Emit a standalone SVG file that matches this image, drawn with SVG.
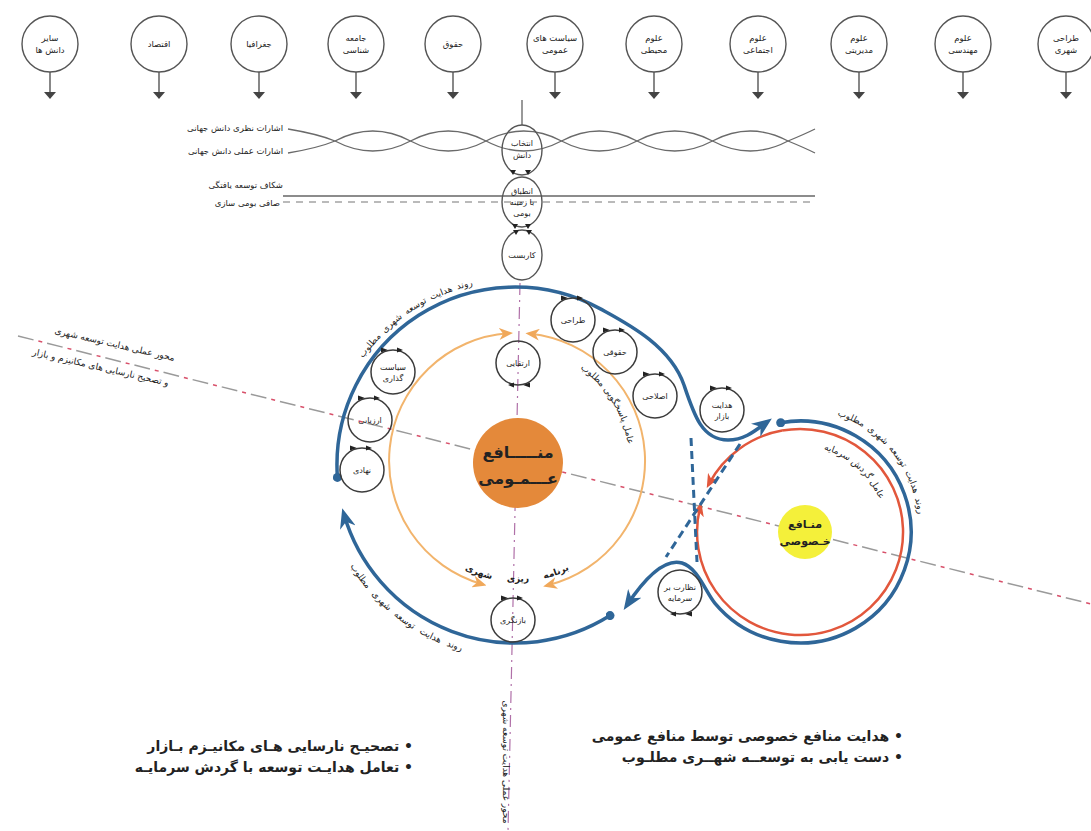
<svg xmlns="http://www.w3.org/2000/svg" width="1091" height="831" viewBox="0 0 1091 831">
<defs>
<style>
text{font-family:"DejaVu Sans","Noto Sans",sans-serif;fill:#222}
.tc{fill:#fff;stroke:#555;stroke-width:1.4}
.tt{font-size:8.5px;text-anchor:middle}
.stem{stroke:#555;stroke-width:1.4}
.tri{fill:#444}
.sc{fill:none;stroke:#3c3c3c;stroke-width:1.5}
.st{font-size:8px;text-anchor:middle}
.mk{fill:#222}
.blue{fill:none;stroke:#2f6698;stroke-width:3.5}
.bdash{fill:none;stroke:#2f6698;stroke-width:3;stroke-dasharray:8 5}
.red{fill:none;stroke:#e2573c;stroke-width:2.5}
.ring{fill:none;stroke:#f2b46c;stroke-width:2}
.wave{fill:none;stroke:#6a6a6a;stroke-width:1.3}
.lab{font-size:8.5px;text-anchor:end}
.arc{font-size:9px;text-anchor:middle}
.bt{font-size:14px;font-weight:bold;direction:rtl;text-anchor:start}
.el{fill:none;stroke:#555;stroke-width:1.4}
</style>
<marker id="aBlue" viewBox="0 0 20 16" refX="14" refY="8" markerWidth="20" markerHeight="16" markerUnits="userSpaceOnUse" orient="auto"><path d="M0,0 L20,8 L0,16 L6,8 z" fill="#2f6698"/></marker>
<marker id="dBlue" viewBox="0 0 10 10" refX="5" refY="5" markerWidth="9" markerHeight="9" markerUnits="userSpaceOnUse"><circle cx="5" cy="5" r="5" fill="#2f6698"/></marker>
<marker id="aOr" viewBox="0 0 14 12" refX="9" refY="6" markerWidth="14" markerHeight="12" markerUnits="userSpaceOnUse" orient="auto-start-reverse"><path d="M0,0 L14,6 L0,12 L4,6 z" fill="#f0a85a"/></marker>
<marker id="aRed" viewBox="0 0 14 12" refX="9" refY="6" markerWidth="14" markerHeight="12" markerUnits="userSpaceOnUse" orient="auto"><path d="M0,0 L14,6 L0,12 L4,6 z" fill="#e2573c"/></marker>
<g id="cyc"><circle r="22" class="sc"/><path class="mk" d="M-12,-24.5 L-5,-22 L-12,-19.5 z M4,-24.5 L10,-22 L4,-19.5 z"/></g>
<path id="pTop" d="M336,415 A184,184 0 0 1 512,281"/>
<path id="pBot" d="M337,540 A194,194 0 0 0 490,657"/>
<path id="pRing" d="M569.5,362.1 A112,112 0 0 1 628.9,457.1"/>
<path id="pRingB" d="M458,566 A118,118 0 0 0 576,566"/>
<path id="pROut" d="M812,410 A118,118 0 0 1 918,540"/>
<path id="pRIn" d="M822,449 A86,86 0 0 1 880,501"/>
</defs>
<rect width="1091" height="831" fill="#fff"/>

<!-- top discipline nodes -->
<g id="t1"><circle class="tc" cx="50" cy="44" r="28"/><text class="tt" x="50" y="41">سایر</text><text class="tt" x="50" y="53">دانش ها</text><line class="stem" x1="50" y1="72" x2="50" y2="93"/><path class="tri" d="M44,92 H56 L50,99 z"/></g>
<g id="t2"><circle class="tc" cx="159" cy="44" r="28"/><text class="tt" x="159" y="47">اقتصاد</text><line class="stem" x1="159" y1="72" x2="159" y2="93"/><path class="tri" d="M153,92 H165 L159,99 z"/></g>
<g id="t3"><circle class="tc" cx="259" cy="44" r="28"/><text class="tt" x="259" y="47">جغرافیا</text><line class="stem" x1="259" y1="72" x2="259" y2="93"/><path class="tri" d="M253,92 H265 L259,99 z"/></g>
<g id="t4"><circle class="tc" cx="356" cy="44" r="28"/><text class="tt" x="356" y="41">جامعه</text><text class="tt" x="356" y="53">شناسی</text><line class="stem" x1="356" y1="72" x2="356" y2="93"/><path class="tri" d="M350,92 H362 L356,99 z"/></g>
<g id="t5"><circle class="tc" cx="453" cy="44" r="28"/><text class="tt" x="453" y="47">حقوق</text><line class="stem" x1="453" y1="72" x2="453" y2="93"/><path class="tri" d="M447,92 H459 L453,99 z"/></g>
<g id="t6"><circle class="tc" cx="555" cy="44" r="28"/><text class="tt" x="555" y="41">سیاست های</text><text class="tt" x="555" y="53">عمومی</text><line class="stem" x1="555" y1="72" x2="555" y2="93"/><path class="tri" d="M549,92 H561 L555,99 z"/></g>
<g id="t7"><circle class="tc" cx="654" cy="44" r="28"/><text class="tt" x="654" y="41">علوم</text><text class="tt" x="654" y="53">محیطی</text><line class="stem" x1="654" y1="72" x2="654" y2="93"/><path class="tri" d="M648,92 H660 L654,99 z"/></g>
<g id="t8"><circle class="tc" cx="758" cy="44" r="28"/><text class="tt" x="758" y="41">علوم</text><text class="tt" x="758" y="53">اجتماعی</text><line class="stem" x1="758" y1="72" x2="758" y2="93"/><path class="tri" d="M752,92 H764 L758,99 z"/></g>
<g id="t9"><circle class="tc" cx="859" cy="44" r="28"/><text class="tt" x="859" y="41">علوم</text><text class="tt" x="859" y="53">مدیریتی</text><line class="stem" x1="859" y1="72" x2="859" y2="93"/><path class="tri" d="M853,92 H865 L859,99 z"/></g>
<g id="t10"><circle class="tc" cx="963" cy="44" r="28"/><text class="tt" x="963" y="41">علوم</text><text class="tt" x="963" y="53">مهندسی</text><line class="stem" x1="963" y1="72" x2="963" y2="93"/><path class="tri" d="M957,92 H969 L963,99 z"/></g>
<g id="t11"><circle class="tc" cx="1066" cy="44" r="28"/><text class="tt" x="1066" y="41">طراحی</text><text class="tt" x="1066" y="53">شهری</text><line class="stem" x1="1066" y1="72" x2="1066" y2="93"/><path class="tri" d="M1060,92 H1072 L1066,99 z"/></g>

<!-- knowledge bands -->
<g id="bands">
<path class="wave" d="M288,129 Q318,134 335,141 Q372.75,161 410.5,141 Q448.25,121 486,141 Q523.75,161 561.5,141 Q599.25,121 637,141 Q674.75,161 712.5,141 Q750.25,121 788,141 Q805,148 815,153"/>
<path class="wave" d="M288,153 Q318,148 335,141 Q372.75,121 410.5,141 Q448.25,161 486,141 Q523.75,121 561.5,141 Q599.25,161 637,141 Q674.75,121 712.5,141 Q750.25,161 788,141 Q805,134 815,129"/>
<text class="lab" x="283" y="131">اشارات نظری دانش جهانی</text>
<text class="lab" x="283" y="154">اشارات عملی دانش جهانی</text>
<line x1="283" y1="196" x2="815" y2="196" stroke="#666" stroke-width="1.4"/>
<line x1="283" y1="202" x2="815" y2="202" stroke="#777" stroke-width="1.2" stroke-dasharray="7 6"/>
<text class="lab" x="283" y="188">شکاف توسعه یافتگی</text>
<text class="lab" x="280" y="206">صافی بومی سازی</text>
</g>

<!-- axes -->
<g id="axes">
<line x1="520" y1="283" x2="508" y2="831" stroke="#b070a8" stroke-width="1.2" stroke-dasharray="12 5 2 5"/>
<line x1="18" y1="336" x2="1091" y2="604" stroke="#9a9a9a" stroke-width="1.5" stroke-dasharray="16 14"/>
<line x1="18" y1="336" x2="1091" y2="604" stroke="#d8506a" stroke-width="1.5" stroke-dasharray="4 26" stroke-dashoffset="-21"/>
<text font-size="9" text-anchor="end" transform="translate(174,361) rotate(13)">محور عملی هدایت توسعه شهری</text>
<text font-size="9" text-anchor="end" transform="translate(168,386) rotate(13)">و تصحیح نارسایی های مکانیزم و بازار</text>
<text font-size="9" text-anchor="middle" transform="translate(503,762) rotate(90)">محور عملی هدایت توسعه شهری</text>
</g>

<!-- chain ellipses -->
<g id="e1"><ellipse class="el" cx="522" cy="150" rx="20" ry="25"/><text class="st" font-size="7.5" x="522" y="146">انتخاب</text><text class="st" font-size="7.5" x="522" y="158">دانش</text></g>
<g id="e2"><ellipse class="el" cx="522" cy="202" rx="20" ry="25"/><text class="st" font-size="7" x="522" y="194">انطباق</text><text class="st" font-size="7" x="522" y="205">با زمینه</text><text class="st" font-size="7" x="522" y="216">بومی</text></g>
<g id="e3"><ellipse class="el" cx="522" cy="255" rx="20" ry="25"/><text class="st" font-size="7.5" x="522" y="258">کاربست</text></g>

<!-- central elements -->
<g id="public"><circle cx="518" cy="463" r="45" fill="#e4893a"/><text x="518" y="458" font-size="16" font-weight="bold" text-anchor="middle">منـــــافع</text><text x="518" y="484" font-size="16" font-weight="bold" text-anchor="middle">عـــمـومی</text></g>
<g id="private"><circle cx="805" cy="532" r="27" fill="#f4f03a"/><text x="805" y="528" font-size="11" font-weight="bold" text-anchor="middle">منـافع</text><text x="805" y="545" font-size="11" font-weight="bold" text-anchor="middle">خـصوصی</text></g>

<g id="connectors">
<line x1="522" y1="100" x2="522" y2="125" stroke="#555" stroke-width="1.2"/>
<path class="mk" d="M510,170 L516,170 L513,175 z M525,170 L531,170 L528,175 z M512,224 L518,224 L515,229 z M525,224 L531,224 L528,229 z M513,230 L519,230 L516,235 z M526,230 L532,230 L529,235 z"/>
<path class="ring" marker-start="url(#aOr)" marker-end="url(#aOr)" d="M508.1,333.3 A128,128 0 0 0 481.7,584"/>
<path class="ring" marker-start="url(#aOr)" marker-end="url(#aOr)" d="M530.4,333.7 A128,128 0 0 1 548,585.2"/>
<path class="red" marker-end="url(#aRed)" d="M782.1,430.6 A103,103 0 1 1 700.1,507.1"/>
<path class="red" marker-end="url(#aRed)" d="M782.1,430.6 A103,103 0 0 0 709.1,483.6"/>
<path class="blue" marker-start="url(#dBlue)" marker-end="url(#aBlue)" d="M337.4,477.4 A178,178 0 0 1 599.9,308.6 C626,323 670,345 684,385 C694,415 702,440 728,440 C745,440 756,430 767,422"/>
<path class="blue" marker-start="url(#dBlue)" marker-end="url(#aBlue)" d="M610,615.6 A178,178 0 0 1 343.9,514.1"/>
<path class="blue" marker-start="url(#dBlue)" marker-end="url(#aBlue)" d="M780.7,422.7 A111,111 0 1 1 715,603.3 C705.4,591.8 698,568 682,563 C665,558 645,578 627,605"/>
<path class="bdash" d="M691,438 L697,562"/>
<path class="bdash" d="M740,444 L666,557"/>
<text class="arc" font-size="10" word-spacing="2"><textPath href="#pTop" startOffset="55%">روند هدایت توسعه شهری مطلوب</textPath></text>
<text class="arc" font-size="10" word-spacing="4"><textPath href="#pBot" startOffset="50%">روند هدایت توسعه شهری مطلوب</textPath></text>
<text class="arc"><textPath href="#pRing" startOffset="50%">عامل پاسخگویی مطلوب</textPath></text>
<text class="arc" font-size="11" font-weight="bold" word-spacing="12"><textPath href="#pRingB" startOffset="50%">برنامه ریزی شهری</textPath></text>
<text class="arc" font-size="9.5" word-spacing="2"><textPath href="#pROut" startOffset="50%">روند هدایت توسعه شهری مطلوب</textPath></text>
<text class="arc" font-size="8.5"><textPath href="#pRIn" startOffset="50%">عامل گردش سرمایه</textPath></text>
</g>

<!-- cycle nodes -->
<g id="n1" transform="translate(518,363)"><use href="#cyc" transform="rotate(180)"/><text class="st" y="3">ارتقایی</text></g>
<g id="n2" transform="translate(573,320)"><use href="#cyc"/><text class="st" y="3">طراحی</text></g>
<g id="n3" transform="translate(615,352)"><use href="#cyc"/><text class="st" y="3">حقوقی</text></g>
<g id="n4" transform="translate(655,396)"><use href="#cyc"/><text class="st" y="3">اصلاحی</text></g>
<g id="n5" transform="translate(393,372)"><use href="#cyc"/><text class="st" y="-2">سیاست</text><text class="st" y="9">گذاری</text></g>
<g id="n6" transform="translate(370,420)"><use href="#cyc"/><text class="st" y="3">ارزیابی</text></g>
<g id="n7" transform="translate(362,470)"><use href="#cyc"/><text class="st" y="3">نهادی</text></g>
<g id="n8" transform="translate(513,620)"><use href="#cyc"/><text class="st" y="3">بازنگری</text></g>
<g id="n9" transform="translate(722,410)"><use href="#cyc"/><text class="st" y="-2">هدایت</text><text class="st" y="9">بازار</text></g>
<g id="n10" transform="translate(680,592)"><use href="#cyc" transform="rotate(180)"/><text class="st" y="-2">نظارت بر</text><text class="st" y="9">سرمایه</text></g>

<!-- bottom notes -->
<g id="notes">
<text class="bt" x="413" y="751">• تصحیـح نارسایی هـای مکانیـزم بـازار</text>
<text class="bt" x="413" y="772">• تعامل هدایـت توسعه با گردش سرمایـه</text>
<text class="bt" x="903" y="741">• هدایت منافع خصوصی توسط منافع عمومی</text>
<text class="bt" x="903" y="762">• دست یابی به توسعــه شهــری مطلـوب</text>
</g>
</svg>
